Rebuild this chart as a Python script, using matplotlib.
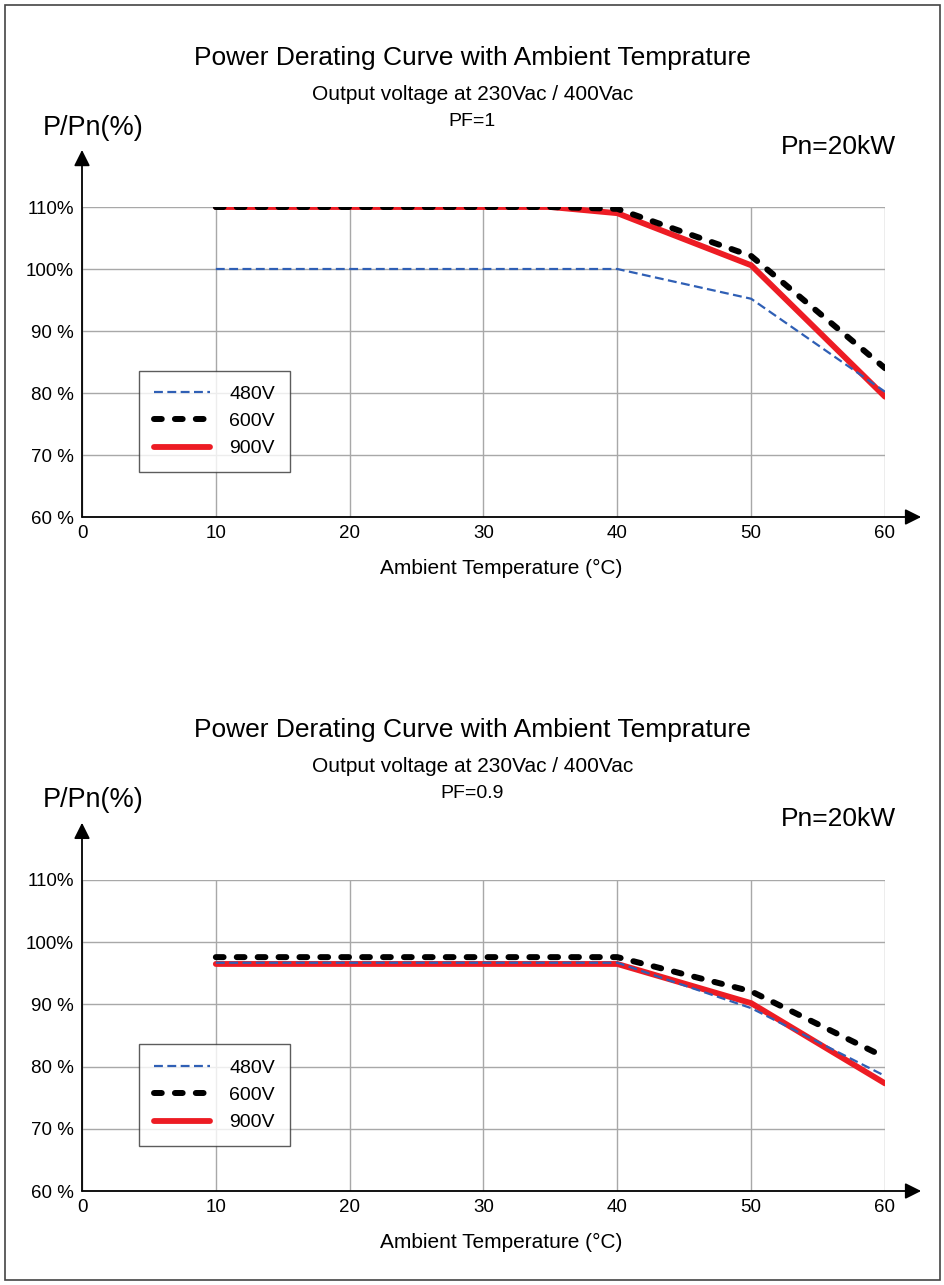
import matplotlib
matplotlib.use('Agg')
import matplotlib.pyplot as plt
from matplotlib.patches import Rectangle

plt.rcParams['font.family'] = ['Liberation Sans', 'DejaVu Sans']

# Data
temps_480_pf1 = [10, 40, 50, 60]
p_480_pf1 = [100, 100, 95.2, 80.2]
temps_600_pf1 = [10, 35, 40, 50, 60]
p_600_pf1 = [110, 110, 109.7, 102.1, 84.0]
temps_900_pf1 = [10, 35, 40, 50, 60]
p_900_pf1 = [110, 110, 109.0, 100.6, 79.4]

temps_pf09 = [10, 40, 50, 60]
p_480_pf09 = [96.7, 96.7, 89.4, 78.5]
p_600_pf09 = [97.6, 97.6, 92.1, 81.5]
p_900_pf09 = [96.5, 96.5, 90.2, 77.3]

x_ticks = [0, 10, 20, 30, 40, 50, 60]
y_ticks = [60, 70, 80, 90, 100, 110]
y_tick_labels = ['60 %', '70 %', '80 %', '90 %', '100%', '110%']

W, H = 945, 1285
fig = plt.figure(figsize=(W / 100, H / 100), dpi=100)


def fx(x):
    return x / W


def fy(y):
    return 1 - y / H


def draw_panel(top, bottom, series, pf_label, ytxt):
    ax = fig.add_axes([fx(82), fy(bottom), fx(885) - fx(82), fy(top) - fy(bottom)])
    ax.set_xlim(0, 60)
    ax.set_ylim(60, 110)
    for s in ax.spines.values():
        s.set_visible(False)
    ax.set_xticks(x_ticks)
    ax.set_yticks(y_ticks)
    ax.set_yticklabels(y_tick_labels)
    ax.tick_params(axis='x', length=0, labelsize=13.5, pad=6)
    ax.tick_params(axis='y', length=0, labelsize=13.5, pad=6)
    ax.grid(True, color='#a8a8a8', lw=1.0)
    ax.set_axisbelow(True)

    (t4, p4), (t6, p6), (t9, p9) = series
    ax.plot(t9, p9, color='#ed1c24', lw=4.2, solid_capstyle='round',
            solid_joinstyle='miter', label='900V', zorder=3)
    ax.plot(t4, p4, color='#2f5fb5', lw=1.6, dashes=(4, 2), label='480V', zorder=4)
    ax.plot(t6, p6, color='black', lw=4.3, dashes=(1.3, 2.2),
            dash_capstyle='round', label='600V', zorder=5)

    # axes with arrows
    ax.annotate('', xy=(0, 119.2), xytext=(0, 60), annotation_clip=False,
                arrowprops=dict(arrowstyle='-|>', color='black', lw=1.3,
                                mutation_scale=24, shrinkA=0, shrinkB=0))
    ax.annotate('', xy=(62.7, 60), xytext=(0, 60), annotation_clip=False,
                arrowprops=dict(arrowstyle='-|>', color='black', lw=1.3,
                                mutation_scale=24, shrinkA=0, shrinkB=0))

    handles, labels = ax.get_legend_handles_labels()
    order = [labels.index('480V'), labels.index('600V'), labels.index('900V')]
    leg = ax.legend([handles[i] for i in order], [labels[i] for i in order],
                    loc='lower left', bbox_to_anchor=(0.071, 0.145),
                    fontsize=14, frameon=True, fancybox=False,
                    edgecolor='#333333', handlelength=2.9, handletextpad=1.0,
                    labelspacing=0.5, borderpad=0.75, borderaxespad=0)
    leg.get_frame().set_linewidth(1.0)
    leg.set_zorder(6)

    ax.set_xlabel('Ambient Temperature (°C)', fontsize=15, labelpad=10)
    ax.xaxis.set_label_coords((501 - 82) / 803, -0.135)

    fig.text(0.5, fy(ytxt), 'Power Derating Curve with Ambient Temprature',
             ha='center', va='center', fontsize=19)
    fig.text(0.5, fy(ytxt + 37), 'Output voltage at 230Vac / 400Vac',
             ha='center', va='center', fontsize=15)
    fig.text(0.5, fy(ytxt + 63), pf_label, ha='center', va='center', fontsize=14)
    fig.text(fx(43), fy(ytxt + 70), 'P/Pn(%)', ha='left', va='center', fontsize=19.5)
    fig.text(fx(896), fy(ytxt + 89), 'Pn=20kW', ha='right', va='center', fontsize=19)
    return ax


draw_panel(207, 517,
           [(temps_480_pf1, p_480_pf1), (temps_600_pf1, p_600_pf1), (temps_900_pf1, p_900_pf1)],
           'PF=1', 58)
draw_panel(880, 1191,
           [(temps_pf09, p_480_pf09), (temps_pf09, p_600_pf09), (temps_pf09, p_900_pf09)],
           'PF=0.9', 730)

# outer frame
fig.patches.append(Rectangle((fx(5), fy(1280)), fx(940) - fx(5), fy(5) - fy(1280),
                             transform=fig.transFigure, fill=False,
                             edgecolor='#444444', lw=1.2))

fig.savefig('out.png', dpi=100)
